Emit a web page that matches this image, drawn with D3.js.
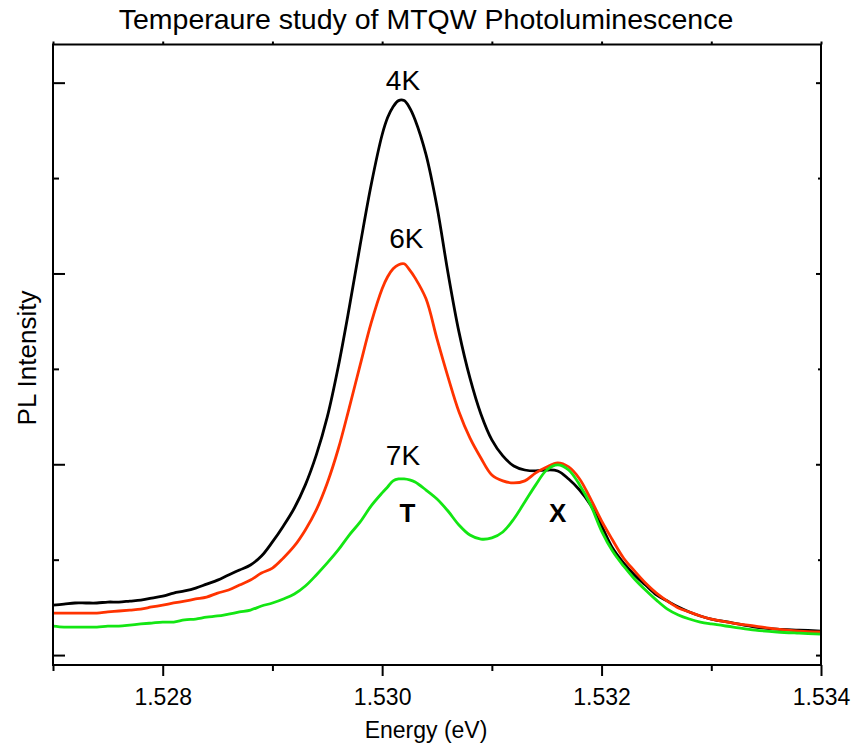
<!DOCTYPE html>
<html>
<head>
<meta charset="utf-8">
<script src="https://cdn.jsdelivr.net/npm/d3@7"></script>
<style>
  html, body { margin: 0; padding: 0; background: #fff; }
  svg { display: block; font-family: "Liberation Sans", Arial, sans-serif; }
</style>
</head>
<body>
<svg id="chart" width="854" height="747"></svg>
<script>
// Photon energy (eV) sampling grid shared by all spectra
const energy = [
  1.5270, 1.5271, 1.5272, 1.5273, 1.5274, 1.5275, 1.5276, 1.5277, 1.5278, 1.5279,
  1.5280, 1.5281, 1.5282, 1.5283, 1.5284, 1.5285, 1.5286, 1.5287, 1.5288, 1.5289,
  1.5290, 1.5291, 1.5292, 1.5293, 1.5294, 1.5295, 1.5296, 1.5297, 1.5298, 1.5299,
  1.5300, 1.53005, 1.5301, 1.53015, 1.5302, 1.53025, 1.5303,
  1.5304, 1.5305, 1.5306, 1.5307, 1.5308, 1.5309, 1.5310, 1.5311, 1.5312, 1.5313,
  1.5314, 1.5315, 1.5316, 1.5317, 1.5318, 1.5319, 1.5320, 1.5321, 1.5322, 1.5323,
  1.5324, 1.5325, 1.5326, 1.5327, 1.5328, 1.5329, 1.5330,
  1.5332, 1.5334, 1.5336, 1.5338, 1.5340
];

// PL intensity (arb. units) at 4 K, 6 K and 7 K
const pl4K = [
  262, 267, 273, 273, 273, 278, 278, 283, 288, 299,
  309, 325, 336, 351, 372, 393, 420, 446, 472, 519,
  593, 677, 771, 892, 1049, 1248, 1511, 1820, 2150, 2465,
  2727, 2817, 2874, 2906, 2906, 2869, 2806,
  2623, 2350, 2004, 1694, 1453, 1264, 1128, 1044, 991, 970,
  965, 970, 965, 923, 865, 787, 677, 561, 483, 420,
  367, 315, 283, 252, 226, 205, 189,
  168, 147, 136, 131, 126
];
const pl6K = [
  220, 220, 220, 220, 220, 226, 231, 236, 241, 252,
  262, 273, 283, 294, 304, 325, 341, 367, 393, 430,
  456, 509, 572, 656, 761, 902, 1080, 1296, 1521, 1741,
  1920, 1983, 2025, 2046, 2051, 2019, 1977,
  1867, 1657, 1458, 1275, 1138, 1033, 944, 913, 902, 913,
  955, 986, 1007, 986, 923, 818, 703, 603, 509, 441,
  378, 325, 283, 247, 226, 205, 189,
  168, 152, 136, 126, 121
];
const pl7K = [
  152, 147, 147, 147, 147, 152, 152, 157, 163, 168,
  173, 173, 184, 189, 199, 205, 215, 226, 236, 257,
  273, 294, 320, 362, 420, 483, 551, 629, 698, 782,
  850, 881, 913, 923, 923, 918, 907,
  865, 818, 755, 682, 629, 608, 614, 645, 713, 802,
  892, 970, 997, 970, 892, 787, 650, 545, 467, 399,
  341, 288, 241, 210, 189, 173, 163,
  147, 131, 121, 115, 110
];

const seriesNames  = ["4K", "6K", "7K"];
const seriesColors = ["#000000", "#ff3300", "#13e613"];
const seriesValues = [pl4K, pl6K, pl7K];

// Tick values
const xMajorTicks = [1.528, 1.530, 1.532, 1.534];
const xMinorTicks = [1.527, 1.529, 1.531, 1.533];
const yMajorTicks = [0, 1000, 2000, 3000];
const yMinorTicks = [500, 1500, 2500];

// Peak annotations: [text, energy, intensity, bold]
const annotations = [
  ["4K", 1.53019, 2961, false],
  ["6K", 1.53022, 2133, false],
  ["7K", 1.53019, 996, false],
  ["T",  1.53023, 697, true],
  ["X",  1.53160, 697, true]
];

const svg = d3.select("#chart");
const plotLeft = 53, plotRight = 821, plotTop = 44.5, plotBottom = 665;

const x = d3.scaleLinear().domain([1.527, 1.534]).range([plotLeft, plotRight]);
const y = d3.scaleLinear().domain([-52, 3200]).range([plotBottom, plotTop]);

svg.append("defs").append("clipPath").attr("id", "plotClip")
  .append("rect").attr("x", plotLeft).attr("y", plotTop)
  .attr("width", plotRight - plotLeft).attr("height", plotBottom - plotTop);

// Spectra
const line = d3.line()
  .x(d => x(d[0]))
  .y(d => y(d[1]))
  .curve(d3.curveCatmullRom.alpha(0.5));

const plot = svg.append("g").attr("clip-path", "url(#plotClip)");
seriesValues.forEach((vals, i) => {
  plot.append("path")
    .datum(energy.map((e, k) => [e, vals[k]]))
    .attr("fill", "none")
    .attr("stroke", seriesColors[i])
    .attr("stroke-width", 2.8)
    .attr("stroke-linejoin", "round")
    .attr("d", line);
});

// Frame axes
function styleAxis(g) {
  g.select(".domain").remove();
  g.selectAll(".tick line").attr("stroke", "#000").attr("stroke-width", 2);
}

// bottom
svg.append("g").attr("transform", `translate(0,${plotBottom})`)
  .call(d3.axisBottom(x).tickValues(xMajorTicks).tickSize(11).tickPadding(13)
    .tickFormat(d3.format(".3f")))
  .call(styleAxis)
  .call(g => g.selectAll("text").attr("font-size", 23).attr("fill", "#000")
    .attr("font-family", '"Liberation Sans", Arial, sans-serif'));
svg.append("g").attr("transform", `translate(0,${plotBottom})`)
  .call(d3.axisBottom(x).tickValues(xMinorTicks).tickSize(6).tickFormat(""))
  .call(styleAxis);

// top
svg.append("g").attr("transform", `translate(0,${plotTop})`)
  .call(d3.axisTop(x).tickValues(xMajorTicks.concat(xMinorTicks)).tickSize(3).tickFormat(""))
  .call(styleAxis);

// left (inward ticks)
svg.append("g").attr("transform", `translate(${plotLeft},0)`)
  .call(d3.axisRight(y).tickValues(yMajorTicks).tickSize(12).tickFormat(""))
  .call(styleAxis);
svg.append("g").attr("transform", `translate(${plotLeft},0)`)
  .call(d3.axisRight(y).tickValues(yMinorTicks).tickSize(6).tickFormat(""))
  .call(styleAxis);

// right (inward ticks)
svg.append("g").attr("transform", `translate(${plotRight},0)`)
  .call(d3.axisLeft(y).tickValues(yMajorTicks).tickSize(5).tickFormat(""))
  .call(styleAxis);
svg.append("g").attr("transform", `translate(${plotRight},0)`)
  .call(d3.axisLeft(y).tickValues(yMinorTicks).tickSize(3).tickFormat(""))
  .call(styleAxis);

// box
svg.append("rect")
  .attr("x", plotLeft).attr("y", plotTop)
  .attr("width", plotRight - plotLeft).attr("height", plotBottom - plotTop)
  .attr("fill", "none").attr("stroke", "#000").attr("stroke-width", 2);

// Peak labels
svg.append("g").selectAll("text").data(annotations).join("text")
  .attr("x", d => x(d[1]))
  .attr("y", d => y(d[2]))
  .attr("text-anchor", "middle")
  .attr("font-size", d => d[3] ? 26 : 28)
  .attr("font-weight", d => d[3] ? "bold" : "normal")
  .attr("fill", "#000")
  .text(d => d[0]);

// Titles
svg.append("text")
  .attr("x", 426).attr("y", 29)
  .attr("text-anchor", "middle")
  .attr("font-size", 28.5)
  .text("Temperaure study of MTQW Photoluminescence");

svg.append("text")
  .attr("x", 426).attr("y", 738)
  .attr("text-anchor", "middle")
  .attr("font-size", 23)
  .text("Energy (eV)");

svg.append("text")
  .attr("transform", "translate(36,358) rotate(-90)")
  .attr("text-anchor", "middle")
  .attr("font-size", 26)
  .text("PL Intensity");
</script>
</body>
</html>
